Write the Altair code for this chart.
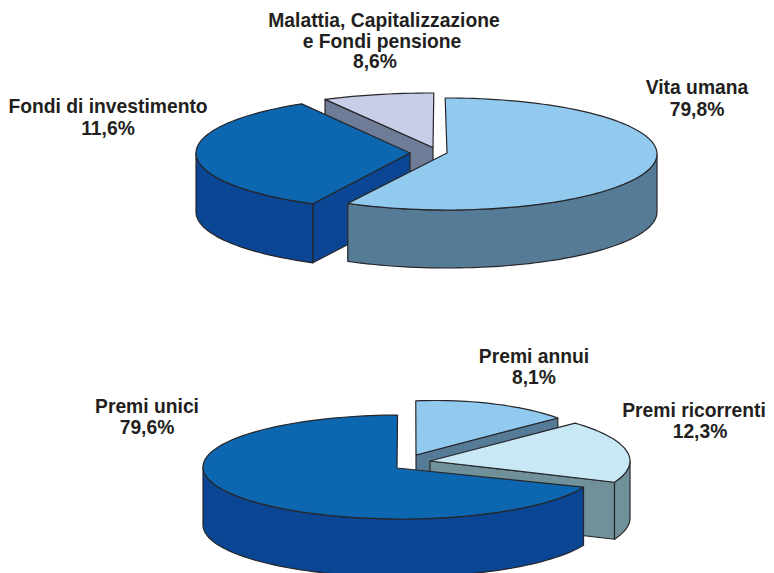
import math
import altair as alt
import pandas as pd

# Slices in back-to-front drawing order (angles, degrees clockwise from 3 o'clock)
names = ["Malattia", "Fondi", "Vita", "Annui", "Ricorrenti", "Unici"]
t_start = [242.0, 117.0, -90.5, 263.0, -43.5, 22.8]
t_end = [270.2, 239.6, 118.2, 317.2, 22.7, 269.0]
radial_wall = [242.0, 117.0, None, 317.2, 22.7, None]

apex_x = [433, 410, 447, 416, 430, 397]
apex_y = [147.5, 153, 153, 455, 461, 468]
rim_cx = [433, 410, 447, 436, 430, 401]
rim_cy = [147.5, 153, 154, 455, 461, 467]
rim_a = [230, 214, 210, 166, 200, 198]
rim_b = [54.5, 57, 56, 54.5, 55, 52]
depth = [58, 59, 58, 58, 57, 58]

top_colors = ["#C8CEE8", "#0D67B0", "#91CAEE", "#91CAEE", "#C9E8F5", "#0D67B0"]
wall_colors = ["#6F7C97", "#0A4694", "#567B96", "#567B96", "#70919A", "#0A4694"]

label_text = [
    "Malattia, Capitalizzazione", "e Fondi pensione", "8,6%",
    "Fondi di investimento", "11,6%",
    "Vita umana", "79,8%",
    "Premi annui", "8,1%",
    "Premi ricorrenti", "12,3%",
    "Premi unici", "79,6%",
]
label_x = [384, 382, 375, 108, 108, 697, 697, 534, 534, 694, 700, 147, 147]
label_y = [20.5, 41.5, 62, 106.5, 128.5, 87.5, 109.5, 356.5, 377.5, 410.5, 431.5, 406.5, 427.5]


def rim(i, a0, a1):
    n = max(2, int(abs(a1 - a0) / 2) + 1)
    pts = []
    for k in range(n + 1):
        t = math.radians(a0 + (a1 - a0) * k / n)
        pts.append([rim_cx[i] + rim_a[i] * math.cos(t), rim_cy[i] + rim_b[i] * math.sin(t)])
    return pts


def feature(ring, fill):
    ring = ring + [ring[0]]
    return {
        "type": "Feature",
        "properties": {"fill": fill},
        "geometry": {"type": "Polygon", "coordinates": [ring]},
    }


features = []
for i in range(len(names)):
    d = depth[i]
    apex = [apex_x[i], apex_y[i]]
    # radial side wall
    if radial_wall[i] is not None:
        p = rim(i, radial_wall[i], radial_wall[i])[0]
        features.append(feature([apex, p, [p[0], p[1] + d], [apex[0], apex[1] + d]], wall_colors[i]))
    # outer curved wall: only the part of the rim that faces the viewer
    lo = max(t_start[i], 0.0)
    hi = min(t_end[i], 180.0)
    if hi > lo:
        arc = rim(i, lo, hi)
        features.append(feature(arc + [[x, y + d] for x, y in reversed(arc)], wall_colors[i]))
    # top face
    features.append(feature([apex] + rim(i, t_start[i], t_end[i]), top_colors[i]))

shapes = (
    alt.Chart(alt.Data(values=features))
    .mark_geoshape(stroke="#26262A", strokeWidth=1.2, strokeJoin="round")
    .encode(fill=alt.Fill("properties.fill:N", scale=None))
    .project(type="identity", scale=1, translate=[-8, -8])
)

labels = pd.DataFrame({"x": label_x, "y": label_y, "text": label_text})
texts = (
    alt.Chart(labels)
    .mark_text(font="Liberation Sans", fontSize=19.3, fontWeight="bold", color="#231F20",
               align="center", baseline="middle")
    .encode(longitude="x:Q", latitude="y:Q", text="text:N")
    .project(type="identity", scale=1, translate=[-8, -8])
)

chart = (
    alt.layer(shapes, texts)
    .properties(width=758, height=565, padding=0, background="white",
                autosize=alt.AutoSizeParams(type="none"))
    .configure_view(stroke=None)
)
chart.save("out.html", embed_options={"renderer": "svg", "actions": False})
